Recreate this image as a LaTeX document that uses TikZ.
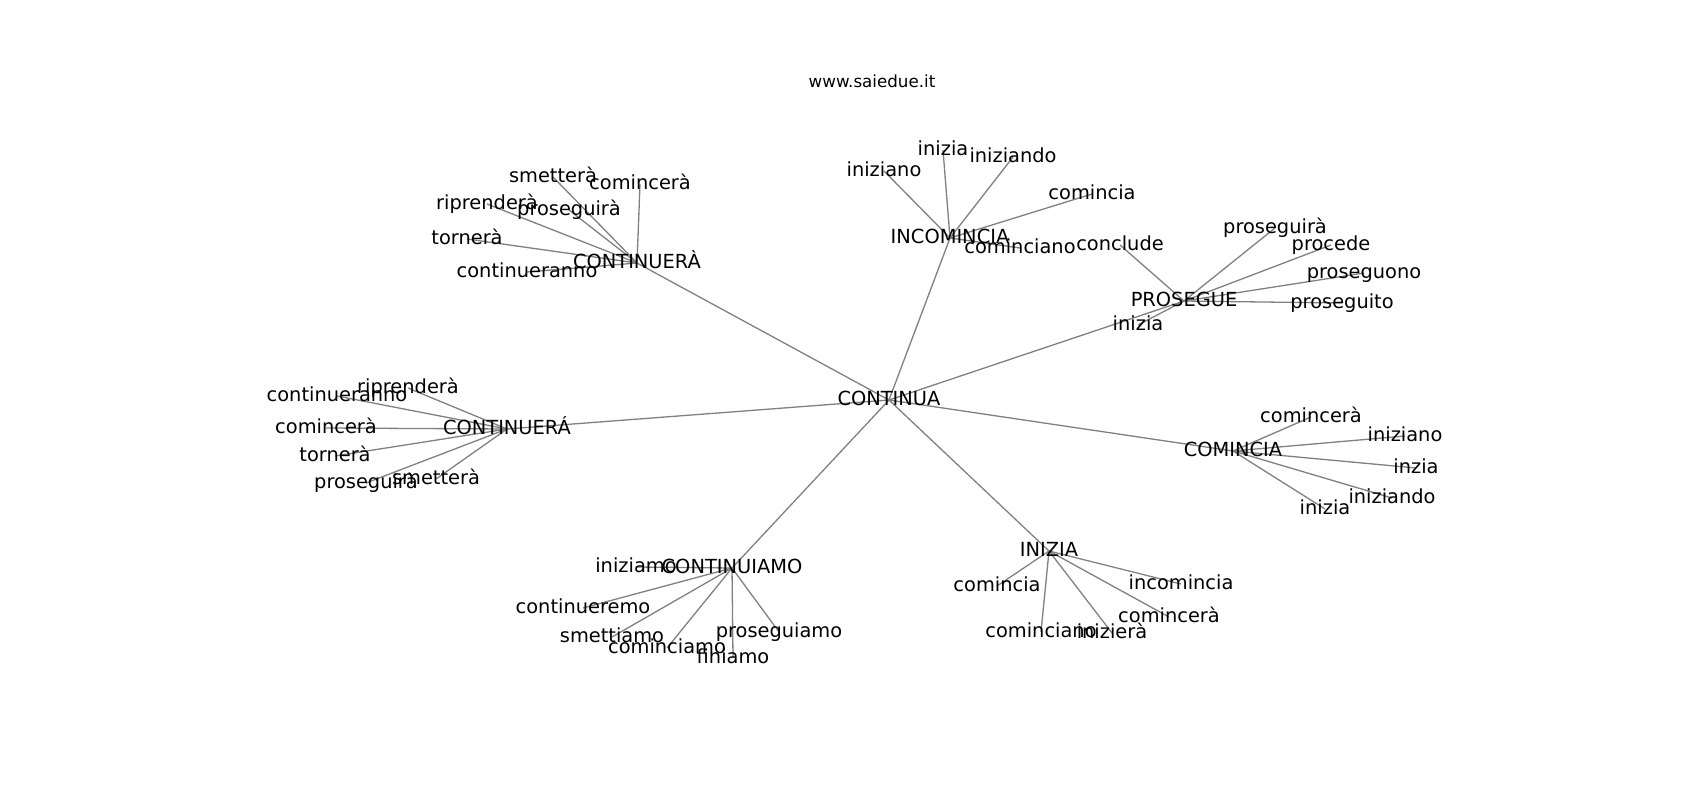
\documentclass[tikz,border=0pt]{standalone}
\usepackage{fontspec}
\setmainfont{DejaVu Sans}
\usetikzlibrary{backgrounds}
\definecolor{edgegray}{RGB}{128,128,128}
\tikzset{
  lab/.style={font=\fontsize{19.4}{19.4}\selectfont, inner sep=0pt, text height=14.7pt, text depth=4.7pt, anchor=center},
  ttl/.style={font=\fontsize{16.7}{16.7}\selectfont, inner sep=0pt, text height=12.7pt, text depth=4pt, anchor=center},
  edge/.style={draw=edgegray, line width=1.3pt}
}
\begin{document}
\begin{tikzpicture}[x=1pt,y=-1pt]
\useasboundingbox (0,0) rectangle (1700,800);
\node[ttl] (title) at (872,83) {www.saiedue.it};
% centre
\node[lab] (C) at (889,400) {CONTINUA};
% hubs
\node[lab] (H1) at (637,263) {CONTINUERÀ};
\node[lab] (H2) at (950,238) {INCOMINCIA};
\node[lab] (H3) at (1184,301) {PROSEGUE};
\node[lab] (H4) at (507,429) {CONTINUERÁ};
\node[lab] (H5) at (1233,451) {COMINCIA};
\node[lab] (H6) at (1049,551) {INIZIA};
\node[lab] (H7) at (732,568) {CONTINUIAMO};
% H1 leaves
\node[lab] (a1) at (553,177) {smetterà};
\node[lab] (a2) at (640,184) {comincerà};
\node[lab] (a3) at (487,204) {riprenderà};
\node[lab] (a4) at (569,210) {proseguirà};
\node[lab] (a5) at (467,239) {tornerà};
\node[lab] (a6) at (527,272) {continueranno};
% H2 leaves
\node[lab] (b1) at (943,150) {inizia};
\node[lab] (b2) at (1013,157) {iniziando};
\node[lab] (b3) at (884,171) {iniziano};
\node[lab] (b4) at (1092,194) {comincia};
\node[lab] (b5) at (1020,248) {cominciano};
% H3 leaves
\node[lab] (c1) at (1275,228) {proseguirà};
\node[lab] (c2) at (1331,245) {procede};
\node[lab] (c3) at (1364,273) {proseguono};
\node[lab] (c4) at (1342,303) {proseguito};
\node[lab] (c5) at (1120,245) {conclude};
\node[lab] (c6) at (1138,325) {inizia};
% H4 leaves
\node[lab] (d1) at (408,388) {riprenderà};
\node[lab] (d2) at (337,396) {continueranno};
\node[lab] (d3) at (326,428) {comincerà};
\node[lab] (d4) at (335,456) {tornerà};
\node[lab] (d5) at (366,483) {proseguirà};
\node[lab] (d6) at (436,479) {smetterà};
% H5 leaves
\node[lab] (e1) at (1311,417) {comincerà};
\node[lab] (e2) at (1405,436) {iniziano};
\node[lab] (e3) at (1416,468) {inzia};
\node[lab] (e4) at (1392,498) {iniziando};
\node[lab] (e5) at (1325,509) {inizia};
% H6 leaves
\node[lab] (f1) at (997,586) {comincia};
\node[lab] (f2) at (1181,584) {incomincia};
\node[lab] (f3) at (1169,617) {comincerà};
\node[lab] (f4) at (1041,632) {cominciano};
\node[lab] (f5) at (1112,633) {inizierà};
% H7 leaves
\node[lab] (g1) at (636,567) {iniziamo};
\node[lab] (g2) at (583,608) {continueremo};
\node[lab] (g3) at (612,637) {smettiamo};
\node[lab] (g4) at (779,632) {proseguiamo};
\node[lab] (g5) at (667,648) {cominciamo};
\node[lab] (g6) at (733,658) {finiamo};
\begin{pgfonlayer}{background}
\foreach \h in {H1,H2,H3,H4,H5,H6,H7} \draw[edge] (C.center) -- (\h.center);
\foreach \l in {a1,a2,a3,a4,a5,a6} \draw[edge] (H1.center) -- (\l.center);
\foreach \l in {b1,b2,b3,b4,b5} \draw[edge] (H2.center) -- (\l.center);
\foreach \l in {c1,c2,c3,c4,c5,c6} \draw[edge] (H3.center) -- (\l.center);
\foreach \l in {d1,d2,d3,d4,d5,d6} \draw[edge] (H4.center) -- (\l.center);
\foreach \l in {e1,e2,e3,e4,e5} \draw[edge] (H5.center) -- (\l.center);
\foreach \l in {f1,f2,f3,f4,f5} \draw[edge] (H6.center) -- (\l.center);
\foreach \l in {g1,g2,g3,g4,g5,g6} \draw[edge] (H7.center) -- (\l.center);
\end{pgfonlayer}
\end{tikzpicture}
\end{document}
